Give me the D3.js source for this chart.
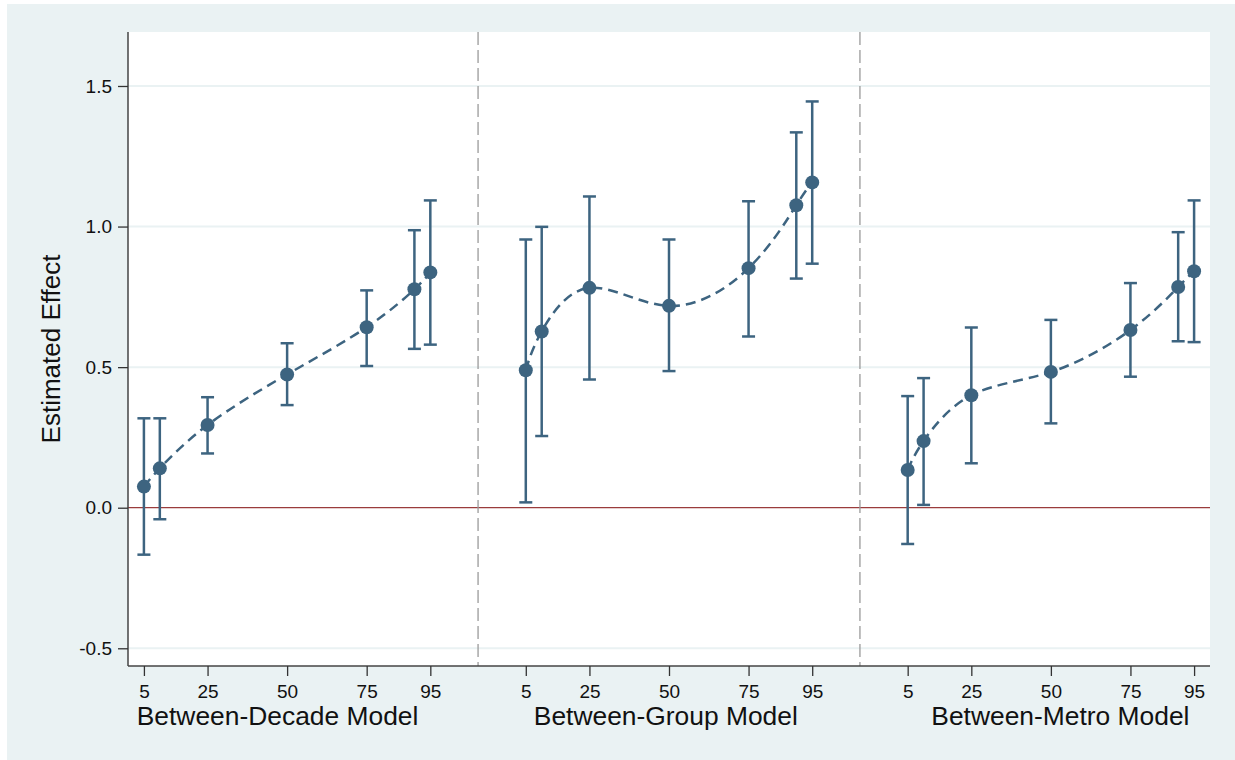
<!DOCTYPE html>
<html>
<head>
<meta charset="utf-8">
<script src="https://cdn.jsdelivr.net/npm/d3@7"></script>
<style>
  html, body { margin: 0; padding: 0; background: #fff; }
  svg { display: block; font-family: Arial, "Liberation Sans", sans-serif; }
</style>
</head>
<body>
<div id="chart"></div>
<script>
// percentiles at which each model was evaluated
const percentiles = [5, 10, 25, 50, 75, 90, 95];
const tickPercentiles = [5, 25, 50, 75, 95];
const models = ['Between-Decade Model', 'Between-Group Model', 'Between-Metro Model'];

// point estimates and 95% CI bounds, one array per model
const decadeEst = [0.075, 0.14, 0.294, 0.474, 0.642, 0.777, 0.837];
const decadeLo  = [-0.167, -0.041, 0.193, 0.365, 0.504, 0.565, 0.58];
const decadeHi  = [0.318, 0.318, 0.393, 0.585, 0.773, 0.987, 1.093];

const groupEst = [0.489, 0.627, 0.782, 0.718, 0.852, 1.076, 1.157];
const groupLo  = [0.019, 0.255, 0.456, 0.486, 0.609, 0.815, 0.868];
const groupHi  = [0.954, 0.999, 1.107, 0.954, 1.09, 1.335, 1.445];

const metroEst = [0.134, 0.237, 0.4, 0.483, 0.632, 0.785, 0.841];
const metroLo  = [-0.129, 0.01, 0.158, 0.3, 0.466, 0.592, 0.589];
const metroHi  = [0.397, 0.461, 0.641, 0.668, 0.799, 0.98, 1.093];

const yTicks = [-0.5, 0, 0.5, 1.0, 1.5];

const width = 1235;
const height = 760;
const margin = { top: 32, right: 25, bottom: 94, left: 128 };
const panelOffset = 120;   // x units between panels
const dividers = [110, 230];
const titleCenters = [47, 49, 53]; // in percentile units within each panel

const navy = '#3d6480';
const bgColor = '#eaf2f3';

const estimates = [decadeEst, groupEst, metroEst];
const lows = [decadeLo, groupLo, metroLo];
const highs = [decadeHi, groupHi, metroHi];

const panels = models.map((name, i) => ({
  name,
  offset: i * panelOffset,
  points: percentiles.map((p, j) => ({
    p,
    est: estimates[i][j],
    lo: lows[i][j],
    hi: highs[i][j]
  }))
}));

const svg = d3.select('#chart')
  .append('svg')
  .attr('width', width)
  .attr('height', height);

// outer graph region
svg.append('rect')
  .attr('x', 7)
  .attr('y', 4)
  .attr('width', width - 7)
  .attr('height', height - 4)
  .attr('fill', bgColor);

const x = d3.scaleLinear()
  .domain([0, 340])
  .range([margin.left, width - margin.right]);

const y = d3.scaleLinear()
  .domain([-0.563, 1.692])
  .range([height - margin.bottom, margin.top]);

// plot region
svg.append('rect')
  .attr('x', margin.left)
  .attr('y', margin.top)
  .attr('width', width - margin.right - margin.left)
  .attr('height', height - margin.bottom - margin.top)
  .attr('fill', '#fff');

// horizontal grid lines
svg.append('g')
  .selectAll('line')
  .data(yTicks.filter(d => d !== 0))
  .enter()
  .append('line')
  .attr('x1', margin.left)
  .attr('x2', width - margin.right)
  .attr('y1', d => y(d))
  .attr('y2', d => y(d))
  .attr('stroke', bgColor)
  .attr('stroke-width', 2);

// zero reference line
svg.append('line')
  .attr('x1', margin.left)
  .attr('x2', width - margin.right)
  .attr('y1', y(0))
  .attr('y2', y(0))
  .attr('stroke', '#9a3c3c')
  .attr('stroke-width', 1.2);

// panel dividers
svg.append('g')
  .selectAll('line')
  .data(dividers)
  .enter()
  .append('line')
  .attr('x1', d => x(d))
  .attr('x2', d => x(d))
  .attr('y1', margin.top)
  .attr('y2', height - margin.bottom)
  .attr('stroke', '#9a9a9a')
  .attr('stroke-width', 1.3)
  .attr('stroke-dasharray', '13,5');

// axes
const yAxis = svg.append('g')
  .attr('transform', `translate(${margin.left},0)`)
  .call(d3.axisLeft(y)
    .tickValues(yTicks)
    .tickSize(10)
    .tickPadding(6)
    .tickFormat(d => d3.format('.1f')(d).replace('\u2212', '-')));

const xTickValues = [];
panels.forEach(pn => tickPercentiles.forEach(p => xTickValues.push(p + pn.offset)));

const xAxis = svg.append('g')
  .attr('transform', `translate(0,${height - margin.bottom})`)
  .call(d3.axisBottom(x)
    .tickValues(xTickValues)
    .tickSize(10)
    .tickPadding(9)
    .tickFormat(d => ((d % panelOffset) + panelOffset) % panelOffset));

[yAxis, xAxis].forEach(ax => {
  ax.select('.domain').attr('stroke', '#444').attr('stroke-width', 1.5);
  ax.selectAll('.tick line').attr('stroke', '#333').attr('stroke-width', 1.3);
  ax.selectAll('.tick text')
    .attr('fill', '#111')
    .style('font-size', '19px')
    .style('font-family', 'Arial, "Liberation Sans", sans-serif');
});
// drop the outer tick stubs so axis lines end at the plot edge
yAxis.select('.domain').attr('d', `M0,${y.range()[0]}V${y.range()[1]}`);
xAxis.select('.domain').attr('d', `M${x.range()[0]},0H${x.range()[1]}`);

// y axis title
svg.append('text')
  .attr('transform', `translate(60,${(margin.top + height - margin.bottom) / 2}) rotate(-90)`)
  .attr('text-anchor', 'middle')
  .attr('fill', '#111')
  .style('font-size', '26px')
  .text('Estimated Effect');

// panel titles
svg.append('g')
  .selectAll('text')
  .data(panels)
  .enter()
  .append('text')
  .attr('x', (d, i) => x(titleCenters[i] + d.offset))
  .attr('y', 725)
  .attr('text-anchor', 'middle')
  .attr('fill', '#111')
  .style('font-size', '26.4px')
  .text(d => d.name);

const line = d3.line()
  .x(d => d.xv)
  .y(d => y(d.est))
  .curve(d3.curveNatural);

const capW = 6.5;

panels.forEach(pn => {
  const g = svg.append('g');
  const pts = pn.points.map(d => Object.assign({ xv: x(d.p + pn.offset) }, d));

  g.append('path')
    .datum(pts)
    .attr('d', line)
    .attr('fill', 'none')
    .attr('stroke', navy)
    .attr('stroke-width', 2.5)
    .attr('stroke-dasharray', '10,6');

  const bars = g.selectAll('.ci')
    .data(pts)
    .enter()
    .append('g')
    .attr('class', 'ci')
    .attr('stroke', navy)
    .attr('stroke-width', 2.5);

  bars.append('line')
    .attr('x1', d => d.xv).attr('x2', d => d.xv)
    .attr('y1', d => y(d.lo)).attr('y2', d => y(d.hi));
  bars.append('line')
    .attr('x1', d => d.xv - capW).attr('x2', d => d.xv + capW)
    .attr('y1', d => y(d.lo)).attr('y2', d => y(d.lo));
  bars.append('line')
    .attr('x1', d => d.xv - capW).attr('x2', d => d.xv + capW)
    .attr('y1', d => y(d.hi)).attr('y2', d => y(d.hi));

  g.selectAll('.pt')
    .data(pts)
    .enter()
    .append('circle')
    .attr('class', 'pt')
    .attr('cx', d => d.xv)
    .attr('cy', d => y(d.est))
    .attr('r', 7)
    .attr('fill', navy);
});
</script>
</body>
</html>
